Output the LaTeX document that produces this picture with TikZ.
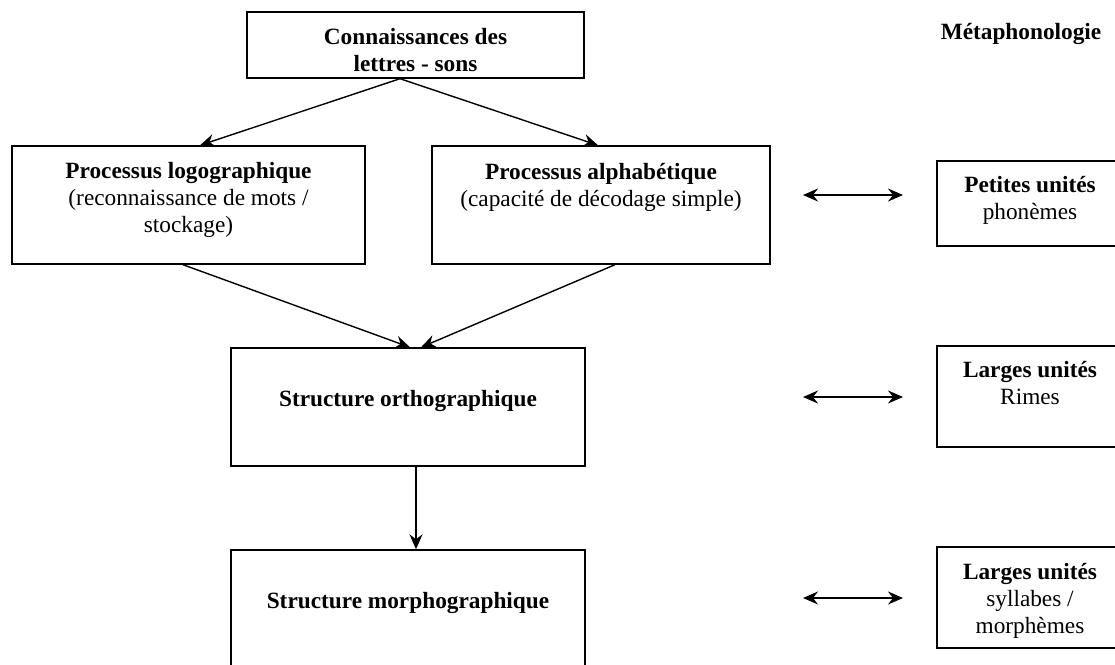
\documentclass[tikz,border=0pt]{standalone}
\usepackage{fontspec}
\setmainfont{Liberation Serif}
\usetikzlibrary{arrows.meta}
\begin{document}
\begin{tikzpicture}[x=1pt,y=-1pt,
  box/.style={draw, line width=1.4pt, rectangle, inner sep=0pt},
  lbl/.style={anchor=north, align=center, inner sep=0pt, font=\fontsize{23.3}{27}\selectfont},
  conn/.style={line width=1.4pt, -{Stealth[length=15pt,width=13pt,inset=5pt]}},
  biconn/.style={line width=1.6pt, {Stealth[length=15pt,width=13pt,inset=5pt]}-{Stealth[length=15pt,width=13pt,inset=5pt]}}]
\useasboundingbox (0,0) rectangle (1115,664);
\clip (0,0) rectangle (1115,664);
\fill[white] (0,0) rectangle (1115,664);
% boxes
\node[box, minimum width=337pt, minimum height=66pt] (top) at (415.5,45) {};
\node[box, minimum width=353pt, minimum height=118pt] (logo) at (188.5,205) {};
\node[box, minimum width=338pt, minimum height=118pt] (alpha) at (601,205) {};
\node[box, minimum width=354pt, minimum height=118pt] (ortho) at (408,407) {};
\node[box, minimum width=354pt, minimum height=124pt] (morpho) at (408,612) {};
\node[box, minimum width=186pt, minimum height=85pt] (pet) at (1030,203.5) {};
\node[box, minimum width=186pt, minimum height=101pt] (rim) at (1030,396.5) {};
\node[box, minimum width=186pt, minimum height=101pt] (syl) at (1030,597.5) {};
% texts
\node[lbl] (ttop) at (415.5,25) {\strut\textbf{Connaissances des}\\\textbf{lettres - sons}};
\node[lbl] (tlogo) at (188.5,159) {\strut\textbf{Processus logographique}\\(reconnaissance de mots /\\stockage)};
\node[lbl] (talpha) at (601,160) {\strut\textbf{Processus alphabétique}\\(capacité de décodage simple)};
\node[lbl] (tortho) at (408,387) {\strut\textbf{Structure orthographique}};
\node[lbl] (tmorpho) at (408,589) {\strut\textbf{Structure morphographique}};
\node[lbl] (tpet) at (1030,173) {\strut\textbf{Petites unités}\\phonèmes};
\node[lbl] (trim) at (1030,358) {\strut\textbf{Larges unités}\\Rimes};
\node[lbl] (tsyl) at (1030,560) {\strut\textbf{Larges unités}\\syllabes /\\morphèmes};
\node[lbl] (tmeta) at (1021,20) {\strut\textbf{Métaphonologie}};
% connectors
\coordinate (tsrc) at ([xshift=-15.5pt]top.south);
\draw[conn] (tsrc) -- ([xshift=11.5pt]logo.north);
\draw[conn] (tsrc) -- ([xshift=-3pt]alpha.north);
\draw[conn] ([xshift=-5.5pt]logo.south) -- ([xshift=2pt]ortho.north);
\draw[conn] ([xshift=14pt]alpha.south) -- ([xshift=13pt]ortho.north);
\draw[conn] ([xshift=8pt]ortho.south) -- ([xshift=8pt]morpho.north);
\coordinate (a1) at (803,195);
\coordinate (b1) at (903,195);
\coordinate (a2) at (803,397);
\coordinate (b2) at (903,397);
\coordinate (a3) at (803,598);
\coordinate (b3) at (903,598);
\draw[biconn] (a1) -- (b1);
\draw[biconn] (a2) -- (b2);
\draw[biconn] (a3) -- (b3);
\end{tikzpicture}
\end{document}
